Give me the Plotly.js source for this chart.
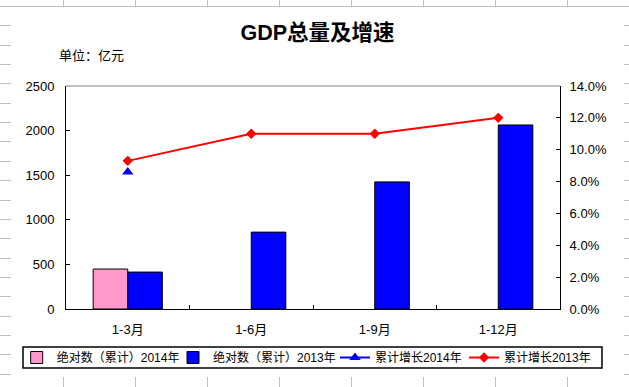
<!DOCTYPE html>
<html>
<head>
<meta charset="utf-8">
<script src="https://cdn.plot.ly/plotly-3.0.1.min.js"></script>
<style>
  html, body { margin: 0; padding: 0; background: #ffffff; }
  #sheet { position: absolute; left: 0; top: 0; width: 629px; height: 387px; overflow: hidden; background: #ffffff; }
  .gl { position: absolute; background: #c0c0c0; }
  #chart { position: absolute; left: 11px; top: 7px; width: 613px; height: 370px; }
</style>
</head>
<body>
<div id="sheet"></div>
<div id="chart"></div>
<script>
// ---- data ----
var categories = ['1-3月', '1-6月', '1-9月', '1-12月'];
var abs2014 = [448, null, null, null];
var abs2013 = [414, 862, 1425, 2063];
var growth2014 = [0.086, null, null, null];
var growth2013 = [0.093, 0.110, 0.110, 0.120];
var seriesNames = ['绝对数（累计）2014年', '绝对数（累计）2013年', '累计增长2014年', '累计增长2013年'];

// ---- spreadsheet gridlines behind the chart ----
var sheet = document.getElementById('sheet');
for (var cx = 63; cx < 629; cx += 72) {
  var v = document.createElement('div');
  v.className = 'gl';
  v.style.left = cx + 'px'; v.style.top = '0px'; v.style.width = '1px'; v.style.height = '387px';
  sheet.appendChild(v);
}
for (var k = 0; k < 21; k++) {
  var ry = Math.round(6 + 19.35 * k);
  if (ry > 386) break;
  var h = document.createElement('div');
  h.className = 'gl';
  h.style.left = '0px'; h.style.top = ry + 'px'; h.style.width = '629px'; h.style.height = '1px';
  sheet.appendChild(h);
}

var fam = '"Liberation Sans", Arial, "Noto Sans CJK SC", sans-serif';

var traces = [
  {
    type: 'bar', name: seriesNames[0], x: categories, y: abs2014, legend: 'legend',
    marker: { color: '#FF99CC', line: { color: '#000000', width: 1 } }
  },
  {
    type: 'bar', name: seriesNames[1], x: categories, y: abs2013, legend: 'legend2',
    marker: { color: '#0000FF', line: { color: '#000000', width: 1 } }
  },
  {
    type: 'scatter', mode: 'lines+markers', name: seriesNames[2], x: categories, y: growth2014,
    yaxis: 'y2', legend: 'legend3', line: { color: '#0000FF', width: 2 },
    marker: { symbol: 'triangle-up', size: 10, color: '#0000FF' }
  },
  {
    type: 'scatter', mode: 'lines+markers', name: seriesNames[3], x: categories, y: growth2013,
    yaxis: 'y2', legend: 'legend4', line: { color: '#FF0000', width: 2 },
    marker: { symbol: 'diamond', size: 8, color: '#FF0000' }
  }
];

function legendAt(xc) {
  return {
    orientation: 'h',
    xref: 'container', yref: 'container',
    x: xc, xanchor: 'left',
    y: 0.0527, yanchor: 'middle',
    bgcolor: 'rgba(0,0,0,0)', borderwidth: 0,
    font: { family: fam, size: 12, color: '#000000' },
    itemwidth: 30
  };
}

var layout = {
  width: 613, height: 370,
  margin: { l: 55, r: 64, t: 79, b: 68, pad: 0, autoexpand: false },
  paper_bgcolor: '#ffffff',
  plot_bgcolor: '#ffffff',
  font: { family: fam, size: 13, color: '#000000' },
  showlegend: true,
  barmode: 'group',
  bargap: 0.44,
  bargroupgap: 0,
  title: {
    text: '<b>GDP总量及增速</b>',
    font: { family: fam, size: 21.5, color: '#000000' },
    xref: 'container', x: 0.5, xanchor: 'center',
    yref: 'container', y: 0.93, yanchor: 'middle'
  },
  xaxis: {
    type: 'category',
    showline: true, linecolor: '#000000', linewidth: 1,
    ticks: 'inside', tickson: 'boundaries', ticklen: 4, tickcolor: '#000000',
    showgrid: false, zeroline: false,
    tickfont: { family: fam, size: 13, color: '#000000' },
    ticklabelstandoff: 8
  },
  yaxis: {
    range: [0, 2500], dtick: 500, tick0: 0,
    showline: true, linecolor: '#000000', linewidth: 1,
    ticks: 'inside', ticklen: 4, tickcolor: '#000000',
    showgrid: false, zeroline: false,
    tickfont: { family: fam, size: 13, color: '#000000' },
    ticklabelstandoff: 8
  },
  yaxis2: {
    overlaying: 'y', side: 'right',
    range: [0, 0.14], dtick: 0.02, tick0: 0, tickformat: '.1%',
    showline: true, linecolor: '#000000', linewidth: 1,
    ticks: 'inside', ticklen: 4, tickcolor: '#000000',
    showgrid: false, zeroline: false,
    tickfont: { family: fam, size: 13, color: '#000000' },
    ticklabelstandoff: 6
  },
  shapes: [
    { type: 'line', xref: 'paper', yref: 'paper', x0: 0, x1: 1, y0: 1, y1: 1,
      line: { color: '#808080', width: 1 } },
    { type: 'rect', xref: 'paper', yref: 'paper', layer: 'above',
      x0: -0.0870, x1: 1.0850, y0: -0.2646, y1: -0.1704,
      fillcolor: 'rgba(0,0,0,0)', line: { color: '#000000', width: 1.5 } }
  ],
  annotations: [
    { text: '单位：亿元', xref: 'paper', yref: 'paper', x: -0.018, y: 1.139,
      xanchor: 'left', yanchor: 'middle', showarrow: false,
      font: { family: fam, size: 13, color: '#000000' } }
  ],
  legend: legendAt(0.0093),
  legend2: legendAt(0.2643),
  legend3: legendAt(0.5285),
  legend4: legendAt(0.7390)
};

Plotly.newPlot('chart', traces, layout, { staticPlot: true, displayModeBar: false });
</script>
</body>
</html>
